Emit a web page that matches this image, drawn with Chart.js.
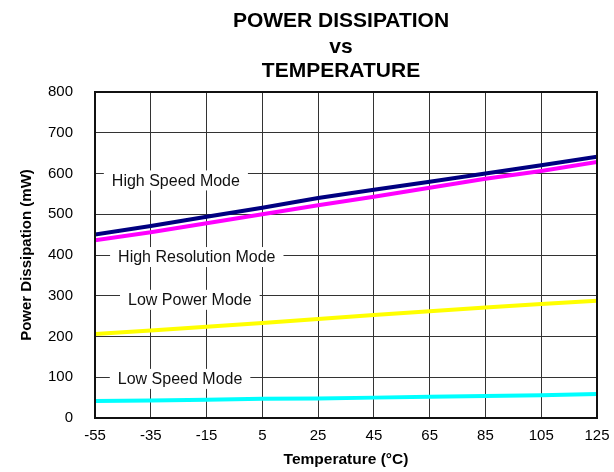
<!DOCTYPE html>
<html>
<head>
<meta charset="utf-8">
<script src="https://cdn.jsdelivr.net/npm/chart.js@4"></script>
<style>
  html, body { margin: 0; padding: 0; background: #fff; }
  #wrap { width: 614px; height: 472px; }
</style>
</head>
<body>
<div id="wrap"><canvas id="chart" width="614" height="472"></canvas></div>
<script>
// Données du graphique
const temperatures = [-55, -35, -15, 5, 25, 45, 65, 85, 105, 125];
const highSpeed = [450, 471, 494, 516, 540, 560, 580, 600, 620, 641];
const highResolution = [436, 456, 478, 500, 522, 543, 565, 587, 606, 628];
const lowPower = [206, 215, 224, 233, 243, 253, 262, 271, 280, 288];
const lowSpeed = [42, 43, 45, 47, 48, 50, 52, 54, 56, 59];

const titleLines = ['POWER DISSIPATION', 'vs', 'TEMPERATURE'];
const yTicks = [0, 100, 200, 300, 400, 500, 600, 700, 800];

// Étiquettes des courbes (position en coordonnées des données)
const modeLabels = [
  { text: 'High Speed Mode', x: -26, y: 583 },
  { text: 'High Resolution Mode', x: -18.5, y: 395 },
  { text: 'Low Power Mode', x: -21, y: 290 },
  { text: 'Low Speed Mode', x: -24.5, y: 96 }
];

const FONT = '"Liberation Sans", Arial, sans-serif';

// Titre sur trois lignes, centré sur la zone de tracé
const titrePlugin = {
  id: 'titre',
  afterDraw(chart) {
    const ctx = chart.ctx;
    const cx = (chart.chartArea.left + chart.chartArea.right) / 2 - 5;
    ctx.save();
    ctx.font = 'bold 21px ' + FONT;
    ctx.fillStyle = '#000';
    ctx.textAlign = 'center';
    ctx.textBaseline = 'alphabetic';
    const ys = [27, 53, 77];
    titleLines.forEach((t, i) => ctx.fillText(t, cx, ys[i]));
    ctx.restore();
  }
};

// Étiquettes avec fond blanc qui coupe la grille
const etiquettesPlugin = {
  id: 'etiquettes',
  beforeDatasetsDraw(chart) {
    const ctx = chart.ctx;
    const xs = chart.scales.x, ys = chart.scales.y;
    ctx.save();
    ctx.font = '16px ' + FONT;
    ctx.textAlign = 'center';
    ctx.textBaseline = 'middle';
    modeLabels.forEach(l => {
      const px = xs.getPixelForValue(l.x);
      const py = ys.getPixelForValue(l.y);
      const w = ctx.measureText(l.text).width;
      ctx.fillStyle = '#fff';
      ctx.fillRect(px - w / 2 - 8, py - 10, w + 16, 20);
      ctx.fillStyle = '#111';
      ctx.fillText(l.text, px, py + 1);
    });
    ctx.restore();
  },
  afterDraw(chart) {
    const a = chart.chartArea;
    const ctx = chart.ctx;
    ctx.save();
    ctx.strokeStyle = '#111';
    ctx.lineWidth = 2;
    ctx.strokeRect(a.left, a.top, a.right - a.left, a.bottom - a.top);
    ctx.restore();
  }
};

function serie(label, data, color) {
  return {
    label: label,
    data: temperatures.map((t, i) => ({ x: t, y: data[i] })),
    borderColor: color,
    backgroundColor: color,
    borderWidth: 4,
    pointRadius: 0,
    tension: 0,
    fill: false
  };
}

new Chart(document.getElementById('chart').getContext('2d'), {
  type: 'line',
  data: {
    datasets: [
      serie('High Speed Mode', highSpeed, '#000080'),
      serie('High Resolution Mode', highResolution, '#ff00ff'),
      serie('Low Power Mode', lowPower, '#ffff00'),
      serie('Low Speed Mode', lowSpeed, '#00ffff')
    ]
  },
  options: {
    responsive: false,
    animation: false,
    layout: { padding: { top: 92, right: 17, left: 0, bottom: 0 } },
    plugins: {
      legend: { display: false },
      title: { display: false },
      tooltip: { enabled: false }
    },
    scales: {
      x: {
        type: 'linear',
        min: -55,
        max: 125,
        afterBuildTicks(scale) {
          scale.ticks = temperatures.map(v => ({ value: v }));
        },
        afterFit(scale) {
          scale.height = 54;
          scale.paddingRight = 0;
        },
        grid: { color: '#333', lineWidth: 1, drawTicks: false },
        border: { display: false },
        ticks: {
          color: '#000',
          font: { family: FONT, size: 15 },
          padding: 9,
          maxRotation: 0,
          autoSkip: false
        },
        title: {
          display: true,
          text: 'Temperature (°C)',
          color: '#000',
          font: { family: FONT, size: 15.5, weight: 'bold' },
          padding: { top: 3, bottom: 3 }
        }
      },
      y: {
        type: 'linear',
        min: 0,
        max: 800,
        afterBuildTicks(scale) {
          scale.ticks = yTicks.map(v => ({ value: v }));
        },
        afterFit(scale) { scale.width = 95; },
        grid: { color: '#333', lineWidth: 1, drawTicks: false },
        border: { display: false },
        ticks: {
          color: '#000',
          font: { family: FONT, size: 15 },
          padding: 22
        },
        title: {
          display: true,
          text: 'Power Dissipation (mW)',
          color: '#000',
          font: { family: FONT, size: 15, weight: 'bold' },
          padding: { top: 18, bottom: 0 }
        }
      }
    }
  },
  plugins: [titrePlugin, etiquettesPlugin]
});
</script>
</body>
</html>
